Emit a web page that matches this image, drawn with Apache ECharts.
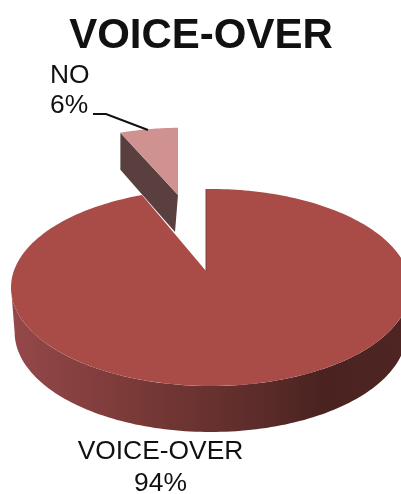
<!DOCTYPE html>
<html>
<head>
<meta charset="utf-8">
<style>html,body{margin:0;padding:0;background:#fff}#c{width:401px;height:494px}</style>
<script src="https://cdn.jsdelivr.net/npm/echarts@6/dist/echarts.min.js"></script>
</head>
<body>
<div id="c"></div>
<script>
const chartTitle = 'VOICE-OVER';
const categories = ['VOICE-OVER', 'NO'];
const shares = [94, 6];

// Perspective disc: the apex sits above the centre of the rim ellipse.
const apex = [206, 271];
const tilt = 0.47;
const rimTop = { cx: 210.6, cy: 287.5, rx: 199.6, ry: 98.5 };
const rimBase = { cx: 210.6, cy: 332, rx: 196, ry: 100 };
const exploded = { dx: -28, dy: -76, scaleX: 0.9, scaleY: 0.82, depth: 37, tipLean: -3 };
const font = 'Liberation Sans, Arial, sans-serif';

const total = shares.reduce((a, b) => a + b, 0);
const startAngles = shares.map((_, i) =>
  shares.slice(0, i).reduce((a, b) => a + b, 0) / total * Math.PI * 2);

// Point where the ray from the apex at data angle t meets the rim ellipse.
function rimPoint(t) {
  const ux = Math.sin(t), uy = -tilt * Math.cos(t);
  const ox = (apex[0] - rimTop.cx) / rimTop.rx, oy = (apex[1] - rimTop.cy) / rimTop.ry;
  const vx = ux / rimTop.rx, vy = uy / rimTop.ry;
  const a = vx * vx + vy * vy, b = 2 * (ox * vx + oy * vy), c = ox * ox + oy * oy - 1;
  const s = (-b + Math.sqrt(b * b - 4 * a * c)) / (2 * a);
  return [apex[0] + ux * s, apex[1] + uy * s];
}

function arc(from, to, steps) {
  const pts = [];
  for (let i = 0; i <= steps; i++) pts.push(rimPoint(from + (to - from) * i / steps));
  return pts;
}

function halfEllipse(e, n) {
  const pts = [];
  for (let i = 0; i <= n; i++) {
    const t = Math.PI * i / n;
    pts.push([e.cx - e.rx * Math.cos(t), e.cy + e.ry * Math.sin(t)]);
  }
  return pts;
}

function poly(points, fill) {
  return { type: 'polygon', shape: { points }, style: { fill }, silent: true };
}

function text(str, x, y, size, align, weight) {
  return {
    type: 'text', silent: true,
    style: { text: str, x, y, fill: '#111', font: (weight || 'normal') + ' ' + size + 'px ' + font,
      textAlign: align, textVerticalAlign: 'middle' }
  };
}

function drawMain(from, to, name, pct) {
  const wallGradient = new echarts.graphic.LinearGradient(0, 0, 1, 0, [
    { offset: 0, color: '#95484a' },
    { offset: 0.3, color: '#7a3a38' },
    { offset: 0.62, color: '#5c2c2a' },
    { offset: 0.78, color: '#4a2320' },
    { offset: 1, color: '#4e2522' }
  ]);
  const top = halfEllipse(rimTop, 120);
  const base = halfEllipse(rimBase, 120).reverse();
  return [
    poly(top.concat(base), wallGradient),
    poly([apex].concat(arc(from, to, 240)), '#a94c48'),
    { type: 'line', silent: true, shape: { x1: apex[0], y1: apex[1], x2: apex[0], y2: 189 },
      style: { stroke: '#7d403e', lineWidth: 1 } },
    text(name, 160.5, 452, 26.4, 'center'),
    text(pct + '%', 160.5, 484, 26.4, 'center')
  ];
}

function drawExploded(from, to, name, pct) {
  const tip = [apex[0] + exploded.dx, apex[1] + exploded.dy];
  const place = p => [tip[0] + (p[0] - apex[0]) * exploded.scaleX, tip[1] + (p[1] - apex[1]) * exploded.scaleY];
  const outer = arc(from, to, 24).map(place);
  const tipFoot = [tip[0] + exploded.tipLean, tip[1] + exploded.depth];
  const outerFoot = [outer[0][0], outer[0][1] + exploded.depth];
  return [
    poly([outer[0], tip, tipFoot, outerFoot], '#5a3f3f'),
    poly([tip].concat(outer), '#cf9291'),
    { type: 'polyline', silent: true,
      shape: { points: [[93, 114], [106, 114], [148, 130]] },
      style: { stroke: '#111', lineWidth: 2, fill: 'none' } },
    text(name, 50, 76, 26.4, 'left'),
    text(pct + '%', 50, 106, 26.4, 'left')
  ];
}

const chart = echarts.init(document.getElementById('c'), null, { renderer: 'canvas' });
chart.setOption({
  animation: false,
  title: {
    text: chartTitle, left: 196, top: 10, textAlign: 'center',
    textStyle: { fontFamily: font, fontSize: 42, fontWeight: 'bold', color: '#111' }
  },
  series: [{
    type: 'custom',
    coordinateSystem: 'none',
    silent: true,
    data: categories.map((name, i) => ({ name, value: shares[i] })),
    renderItem(params, api) {
      const i = params.dataIndex;
      const from = startAngles[i];
      const to = from + api.value(0) / total * Math.PI * 2;
      const children = i === 0
        ? drawMain(from, to, categories[i], shares[i])
        : drawExploded(from, to, categories[i], shares[i]);
      return { type: 'group', children };
    }
  }]
});
</script>
</body>
</html>
